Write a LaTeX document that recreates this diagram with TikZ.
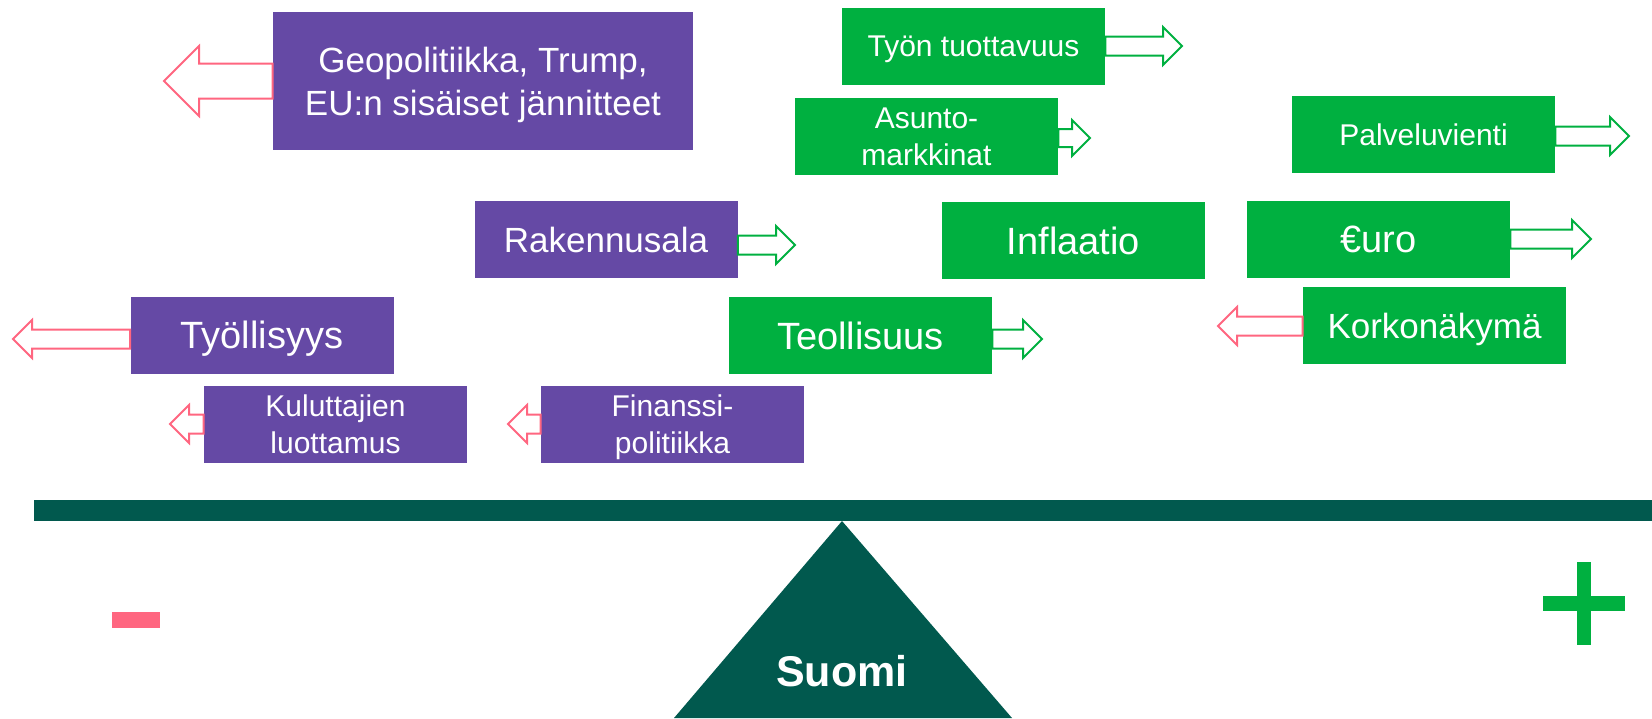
\documentclass[tikz,border=0pt]{standalone}
\usepackage{fontspec}
\setmainfont{Liberation Sans}
\usetikzlibrary{positioning,calc}

\definecolor{boxpurple}{RGB}{101,73,165}
\definecolor{boxgreen}{RGB}{0,176,64}
\definecolor{arrpink}{RGB}{255,102,128}
\definecolor{basegreen}{RGB}{1,89,78}

\newcommand{\blockarrow}[4][]{%
  \path (#3) coordinate (ba-t) (#2 |- #3) coordinate (ba-s) ($(ba-t)!#4!(ba-s)$) coordinate (ba-b);
  \draw[#1] ([yshift=#4/2]ba-s) -- ([yshift=#4/2]ba-b) -- ([yshift=#4]ba-b) -- (ba-t)
    -- ([yshift=-#4]ba-b) -- ([yshift=-#4/2]ba-b) -- ([yshift=-#4/2]ba-s) -- cycle;
}

\begin{document}
\begin{tikzpicture}[
  x=0.5pt, y=-0.5pt,
  box/.style={minimum width=131.5pt, minimum height=38.5pt, inner sep=0pt, align=center, text=white, text depth=0pt},
  negbox/.style={box, fill=boxpurple},
  posbox/.style={box, fill=boxgreen},
  fs/.style={font=\fontsize{15}{18.5}\selectfont},
  fm/.style={font=\fontsize{17.5}{21.5}\selectfont},
  fl/.style={font=\fontsize{19}{23}\selectfont},
  downarr/.style={draw=arrpink, fill=white, line width=1pt},
  uparr/.style={draw=boxgreen, fill=white, line width=1pt}
]
\useasboundingbox (0,0) rectangle (1652,718);

\node[negbox, fm, minimum width=210pt, minimum height=69pt] (geo) at (483,81) {Geopolitiikka, Trump,\\EU:n sisäiset jännitteet};
\node[negbox, fm] (rak) at (606,239.5) {Rakennusala};
\node[negbox, fl] (tyoll) at (262,335) {Työllisyys};
\node[negbox, fs] (kul) at (335.5,424.5) {Kuluttajien\\luottamus};
\node[negbox, fs] (fin) at (672.5,424.5) {Finanssi-\\politiikka};

\node[posbox, fs] (tuott) at (973.5,46.5) {Työn tuottavuus};
\node[posbox, fs] (asunto) at (926.5,136.5) {Asunto-\\markkinat};
\node[posbox, fs] (palv) at (1423.5,134.5) {Palveluvienti};
\node[posbox, fl] (infl) at (1073.5,240.5) {Inflaatio};
\node[posbox, fl] (euro) at (1378.5,239.5) {€uro};
\node[posbox, fm] (korko) at (1434.5,325.5) {Korkonäkymä};
\node[posbox, fl] (teol) at (860.5,335.5) {Teollisuus};

\coordinate (geo-tip) at (164,81);
\coordinate (tyoll-tip) at (13,339);
\coordinate (kul-tip) at (170,424);
\coordinate (fin-tip) at (508,424);
\coordinate (rak-tip) at (795,245);
\coordinate (tuott-tip) at (1182,46);
\coordinate (asunto-tip) at (1090,138);
\coordinate (palv-tip) at (1629,136);
\coordinate (euro-tip) at (1591,239);
\coordinate (korko-tip) at (1218,326);
\coordinate (teol-tip) at (1042,339);

\blockarrow[downarr]{geo.west}{geo-tip}{17.5pt}
\blockarrow[downarr]{tyoll.west}{tyoll-tip}{9.5pt}
\blockarrow[downarr]{kul.west}{kul-tip}{9.5pt}
\blockarrow[downarr]{fin.west}{fin-tip}{9.5pt}
\blockarrow[downarr]{korko.west}{korko-tip}{9.5pt}
\blockarrow[uparr]{rak.east}{rak-tip}{9.5pt}
\blockarrow[uparr]{tuott.east}{tuott-tip}{9.5pt}
\blockarrow[uparr]{asunto.east}{asunto-tip}{9pt}
\blockarrow[uparr]{palv.east}{palv-tip}{9.5pt}
\blockarrow[uparr]{euro.east}{euro-tip}{9.5pt}
\blockarrow[uparr]{teol.east}{teol-tip}{9.5pt}

\fill[basegreen] (34,500) rectangle (1652,521);
\coordinate (pivot) at (842,521);
\fill[basegreen] (pivot) -- (674,718) -- (1012,718) -- cycle;
\node[text=white, font=\bfseries\fontsize{21.5}{26}\selectfont] (suomi) at (842,671) {Suomi};

\fill[arrpink] (112,612) rectangle (160,628);
\fill[boxgreen] (1577,562) rectangle (1591,645);
\fill[boxgreen] (1543,596) rectangle (1625,611);
\end{tikzpicture}
\end{document}
